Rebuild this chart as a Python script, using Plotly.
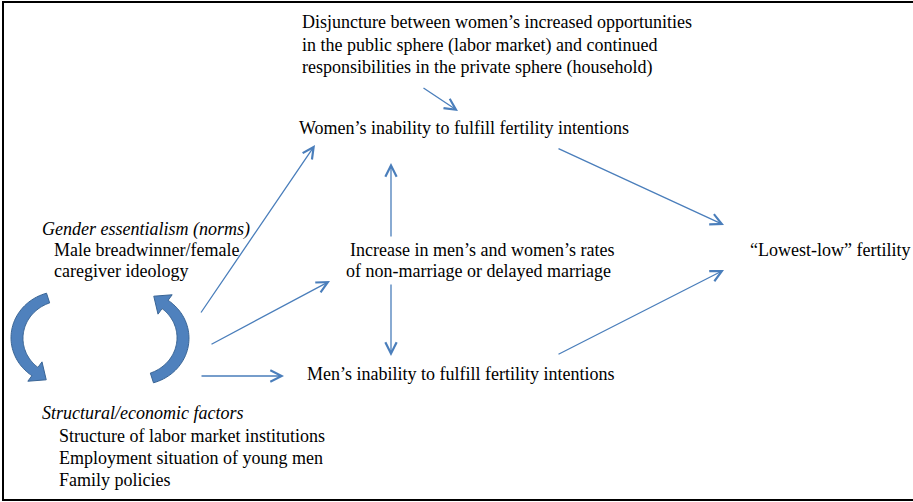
import numpy as np
import plotly.graph_objects as go

# ---------------- content (text) ----------------
top_lines = [
    "Disjuncture between women’s increased opportunities",
    "in the public sphere (labor market) and continued",
    "responsibilities in the private sphere (household)",
]
women_label = ["Women’s inability to fulfill fertility intentions"]
gender_lines = ["<i>Gender essentialism (norms)</i>",
                "Male breadwinner/female",
                "caregiver ideology"]
increase_lines = ["Increase in men’s and women’s rates",
                  "of non-marriage or delayed marriage"]
lowest_label = ["“Lowest-low” fertility"]
men_label = ["Men’s inability to fulfill fertility intentions"]
struct_lines = ["<i>Structural/economic factors</i>",
                "Structure of labor market institutions",
                "Employment situation of young men",
                "Family policies"]

# ---------------- layout (pixel positions, y downward) ----------------
W, H = 913, 502
text_blocks = [
    (top_lines,      [300, 300, 300],      [22, 45, 67]),
    (women_label,    [297],                [128]),
    (gender_lines,   [40, 52, 52],         [229, 250, 271]),
    (increase_lines, [348, 344],           [250, 271]),
    (lowest_label,   [748],                [250]),
    (men_label,      [305],                [374]),
    (struct_lines,   [40, 57, 57, 57],     [413, 436, 458, 480]),
]
# arrows: (tail_x, tail_y, head_x, head_y)
arrows = [
    (422, 87, 458, 111),
    (200, 314, 315, 145),
    (210, 345, 330, 281),
    (200, 376, 284, 376),
    (391, 238, 391, 163),
    (391, 283, 391, 356),
    (557, 148, 724, 225),
    (557, 355, 724, 270),
]

LINE_BLUE = "#4A7EBB"
FONT = "Liberation Serif, Times New Roman, serif"

fig = go.Figure()

annotations = []
for lines, xs, ys in text_blocks:
    for t, x, y in zip(lines, xs, ys):
        annotations.append(dict(
            x=x, y=y, xref="x", yref="y", text=t, showarrow=False,
            xanchor="left", yanchor="middle",
            font=dict(family=FONT, size=18, color="black")))

for tx, ty, hx, hy in arrows:
    annotations.append(dict(
        x=hx, y=hy, ax=tx, ay=ty, xref="x", yref="y", axref="x", ayref="y",
        text="", showarrow=True, arrowhead=5, arrowsize=1.7, arrowwidth=1.3,
        arrowcolor=LINE_BLUE, standoff=0, startstandoff=0))


def curved_arrow_path(cx, cy, rx, ry, th0, th1, band, head_len, head_w, rot_center=None):
    th = np.radians(np.linspace(th0, th1, 60))
    px = cx + rx * np.cos(th)
    py = cy + ry * np.sin(th)
    dx = np.gradient(px)
    dy = np.gradient(py)
    n = np.hypot(dx, dy)
    tx, ty = dx / n, dy / n
    nx, ny = -ty, tx
    w = band * (0.85 + 0.15 * np.sin(np.linspace(0, np.pi, len(th))))
    ox, oy = px + nx * w / 2, py + ny * w / 2
    ix, iy = px - nx * w / 2, py - ny * w / 2
    ex, ey = px[-1], py[-1]
    etx, ety = tx[-1], ty[-1]
    enx, eny = nx[-1], ny[-1]
    tip = (ex + etx * head_len, ey + ety * head_len)
    wing1 = (ex + enx * head_w / 2, ey + eny * head_w / 2)
    wing2 = (ex - enx * head_w / 2, ey - eny * head_w / 2)
    pts = list(zip(ox, oy)) + [wing1, tip, wing2] + list(zip(ix[::-1], iy[::-1]))
    if rot_center is not None:
        rcx, rcy = rot_center
        pts = [(2 * rcx - x, 2 * rcy - y) for x, y in pts]
    return "M " + " L ".join(f"{x:.2f},{y:.2f}" for x, y in pts) + " Z"


shapes = []
for rc in (None, (100, 338)):
    shapes.append(dict(
        type="path", xref="x", yref="y",
        path=curved_arrow_path(62, 338, 45, 42, 252, 127, 12, 14, 24, rot_center=rc),
        fillcolor="#4F81BD", line=dict(color="#3A6595", width=1)))

# outer frame (right edge outside the page)
shapes.append(dict(type="path", xref="x", yref="y",
                   path="M 930,2 L 3,2 L 3,500 L 930,500",
                   line=dict(color="black", width=2)))

fig.update_layout(
    width=W, height=H, margin=dict(l=0, r=0, t=0, b=0),
    paper_bgcolor="white", plot_bgcolor="white",
    xaxis=dict(range=[0, W], visible=False, fixedrange=True),
    yaxis=dict(range=[H, 0], visible=False, fixedrange=True),
    annotations=annotations, shapes=shapes, showlegend=False,
)

fig.write_html("out.html", config={"displayModeBar": False},
               post_script="document.body.style.margin='0';document.body.style.overflow='hidden';")
